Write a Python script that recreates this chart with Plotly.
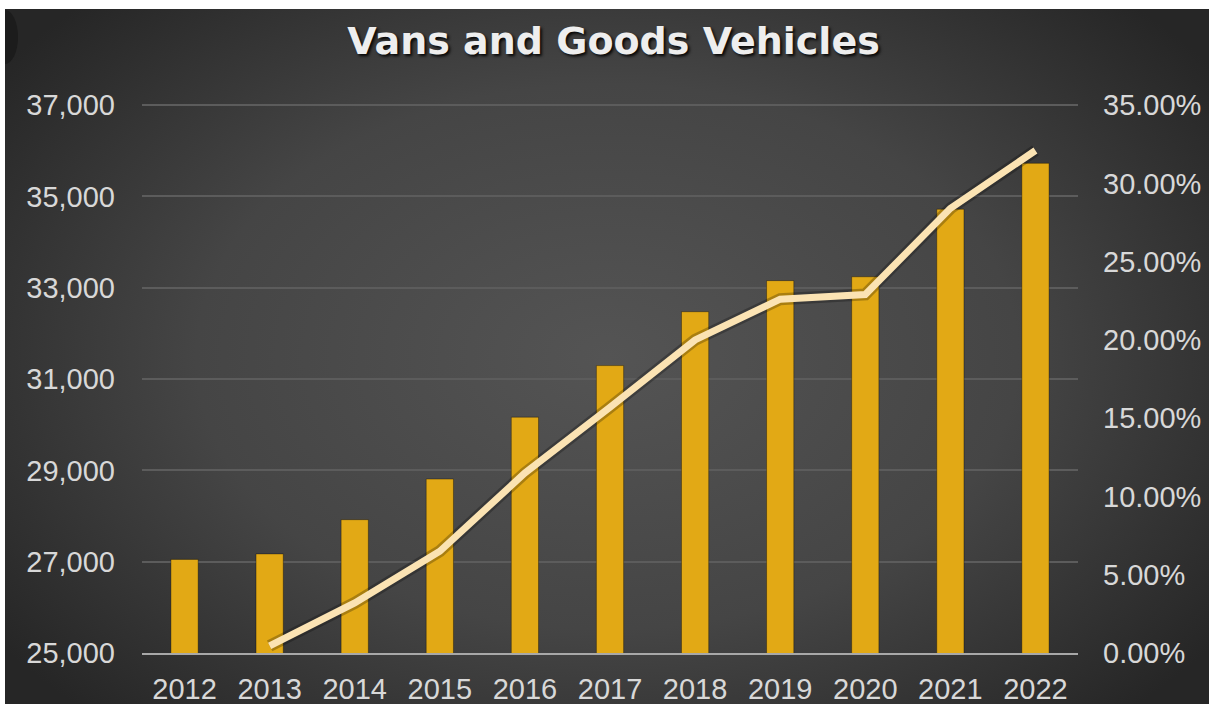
import base64
import plotly.graph_objects as go

# Registered vans and goods vehicles (left axis) and growth since 2012 (right axis)
years = ["2012", "2013", "2014", "2015", "2016", "2017", "2018", "2019", "2020", "2021", "2022"]
vehicles = [27050, 27170, 27920, 28810, 30165, 31295, 32475, 33155, 33240, 34720, 35725]
growth_pct = [None, 0.45, 3.2, 6.5, 11.5, 15.7, 20.0, 22.6, 22.9, 28.4, 32.1]

left_ticks = [25000, 27000, 29000, 31000, 33000, 35000, 37000]
right_ticks = [0, 5, 10, 15, 20, 25, 30, 35]

W, H = 1216, 704
PL, PR, PT, PB = 142, 1078, 104, 653  # plot area in pixels

# small headroom so the top grid line is not dropped at the plot edge
PAD = 1.002
y_range = [25000, 25000 + 12000 * PAD]
y2_range = [0, 35 * PAD]

# dark radial backdrop drawn as an svg image
svg = """<svg xmlns='http://www.w3.org/2000/svg' width='1204' height='695' viewBox='0 0 1204 695'>
<defs><radialGradient id='g' cx='0.5' cy='0.5' r='0.62' fx='0.5' fy='0.5'
gradientTransform='translate(0.5 0.5) scale(1 1.15) translate(-0.5 -0.5)'>
<stop offset='0' stop-color='#545454'/><stop offset='0.55' stop-color='#454545'/>
<stop offset='1' stop-color='#262626'/></radialGradient></defs>
<rect width='1204' height='695' fill='url(#g)'/>
<ellipse cx='0' cy='28' rx='13' ry='27' fill='#1c1c1c'/>
</svg>"""
src = "data:image/svg+xml;base64," + base64.b64encode(svg.encode()).decode()


def px_x(p):
    return (p - PL) / (PR - PL)


def px_y(p):
    return (PB - p) / (PB - PT)


fig = go.Figure()

fig.add_trace(go.Bar(
    x=years, y=vehicles, width=0.32,
    marker=dict(color="#E2A915", line=dict(color="rgba(0,0,0,0.35)", width=1)),
    hoverinfo="x+y", showlegend=False,
))

# soft shadow under the growth line
fig.add_trace(go.Scatter(
    x=years, y=growth_pct, yaxis="y2", mode="lines",
    line=dict(color="rgba(0,0,0,0.25)", width=12),
    hoverinfo="skip", showlegend=False,
))
fig.add_trace(go.Scatter(
    x=years, y=growth_pct, yaxis="y2", mode="lines",
    line=dict(color="#FBE3B3", width=7),
    showlegend=False,
))

tick_font = dict(family="Liberation Sans, Arial, sans-serif", size=29, color="#d8d8d8")

fig.update_layout(
    width=W, height=H,
    margin=dict(l=PL, r=W - PR, t=PT, b=H - PB, autoexpand=False),
    paper_bgcolor="white",
    plot_bgcolor="rgba(0,0,0,0)",
    title=dict(
        text="<b>Vans and Goods Vehicles</b>",
        x=px_x(613.5), xref="paper", xanchor="center",
        y=1 - 41 / H, yref="container", yanchor="middle",
        font=dict(family="DejaVu Sans, sans-serif", size=38, color="#eeeeee",
                  shadow="2px 2px 3px rgba(0,0,0,0.9)"),
    ),
    xaxis=dict(
        type="category", tickfont=tick_font, showgrid=False, zeroline=False,
        showline=True, linecolor="#a8a8a8", linewidth=2, ticks="",
        ticklabelstandoff=9, automargin=False,
    ),
    yaxis=dict(
        range=y_range, tickvals=left_ticks, tickformat=",d",
        tickfont=tick_font, showgrid=True, gridcolor="#5c5c5c", gridwidth=1.5,
        zeroline=False, showline=False, ticks="", ticklabelstandoff=26,
        automargin=False,
    ),
    yaxis2=dict(
        range=y2_range, tickvals=right_ticks,
        ticktext=[f"{v:.2f}%" for v in right_ticks],
        overlaying="y", side="right", tickfont=tick_font, showgrid=False,
        zeroline=False, showline=False, ticks="", ticklabelstandoff=24,
        automargin=False,
    ),
    images=[dict(
        source=src, xref="paper", yref="paper",
        x=px_x(5), y=px_y(9), sizex=px_x(1209) - px_x(5), sizey=px_y(9) - px_y(704),
        xanchor="left", yanchor="top", sizing="stretch", layer="below",
    )],
    bargap=0.68,
)

fig.write_html("out.html")
